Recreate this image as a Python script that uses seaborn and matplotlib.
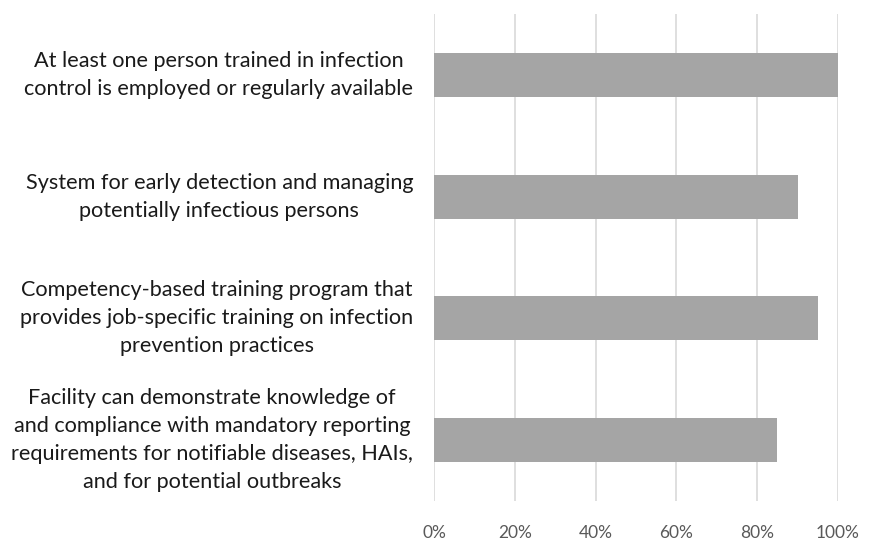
import matplotlib
matplotlib.use("Agg")
import matplotlib.pyplot as plt
import seaborn as sns
import pandas as pd
from matplotlib.ticker import FuncFormatter

categories = [
    "At least one person trained in infection\ncontrol is employed or regularly available",
    "System for early detection and managing\npotentially infectious persons",
    "Competency-based training program that\nprovides job-specific training on infection\nprevention practices",
    "Facility can demonstrate knowledge of\nand compliance with mandatory reporting\nrequirements for notifiable diseases, HAIs,\nand for potential outbreaks",
]
values = [1.00, 0.90, 0.95, 0.85]
xticks = [0, 0.2, 0.4, 0.6, 0.8, 1.0]

df = pd.DataFrame({"category": categories, "value": values})

sns.set_theme(style="white")
plt.rcParams["font.family"] = ["Lato", "DejaVu Sans"]

fig = plt.figure(figsize=(8.76, 5.41), dpi=100)
ax = fig.add_axes([434 / 876, 40 / 541, 404 / 876, 487 / 541])

sns.barplot(data=df, x="value", y="category", orient="h", color="#A5A5A5",
            width=0.36, linewidth=0, saturation=1, ax=ax, zorder=3)

ax.set_xlim(0, 1.0)
ax.set_xticks(xticks)
ax.xaxis.set_major_formatter(FuncFormatter(lambda v, p: f"{v*100:.0f}%"))
ax.grid(axis="x", color="#D9D9D9", linewidth=1.2, zorder=0)
ax.set_axisbelow(True)
for s in ax.spines.values():
    s.set_visible(False)
ax.set_xlabel("")
ax.set_ylabel("")
ax.tick_params(axis="x", length=0, pad=17, labelsize=12.5, labelcolor="#595959")
ax.tick_params(axis="y", length=0, pad=15, labelsize=15.6, labelcolor="#1a1a1a")
for lbl in ax.get_yticklabels():
    lbl.set_multialignment("center")
    lbl.set_linespacing(1.5)
    lbl.set_verticalalignment("center")

fig.savefig("out.png", dpi=100)
